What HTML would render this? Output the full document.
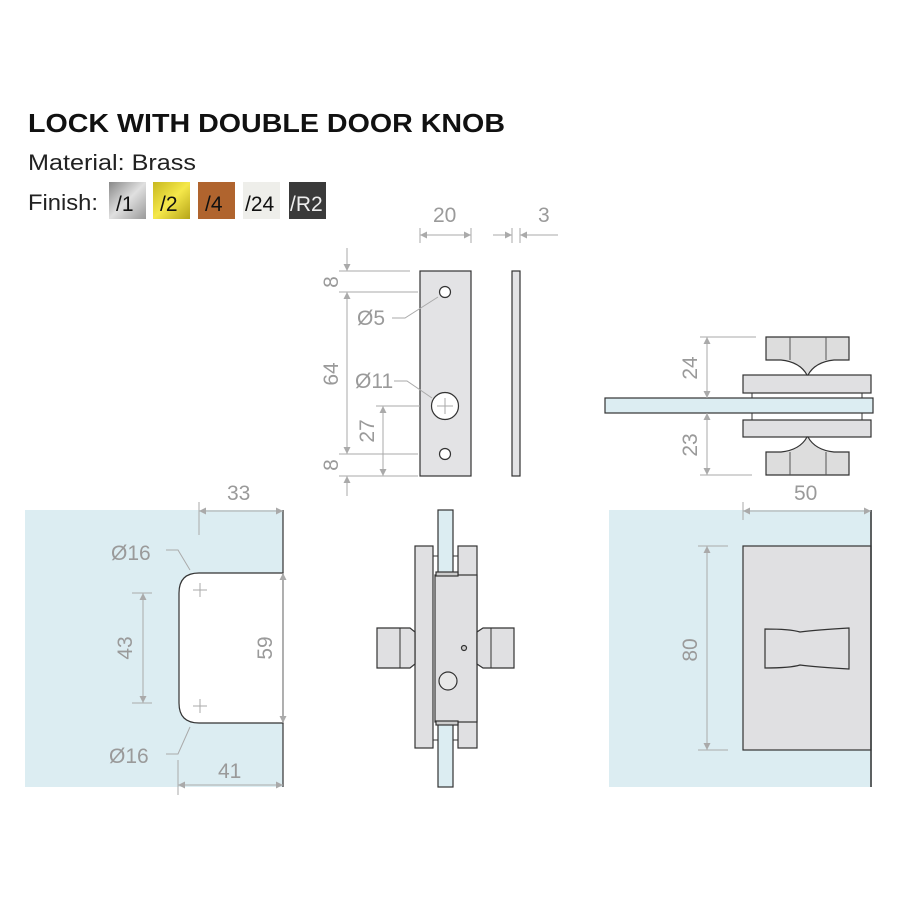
<!DOCTYPE html>
<html><head><meta charset="utf-8"><style>
body{margin:0;background:#fff}
svg{display:block}
text{font-family:"Liberation Sans",sans-serif}
.d{fill:#9a9a9a;font-size:21px}
.l{stroke:#aaa;stroke-width:1;fill:none}
.o{stroke:#333;stroke-width:1.2}
</style></head><body>
<svg width="900" height="900" viewBox="0 0 900 900" xmlns="http://www.w3.org/2000/svg">
<defs>
<marker id="a" viewBox="0 0 10 10" refX="10" refY="5" markerWidth="12" markerHeight="7" orient="auto-start-reverse" markerUnits="userSpaceOnUse"><path d="M0,0L10,5L0,10z" fill="#aaa"/></marker>
<linearGradient id="g1" x1="0" y1="0" x2="1" y2="1"><stop offset="0" stop-color="#888"/><stop offset=".5" stop-color="#e0e0e0"/><stop offset="1" stop-color="#999"/></linearGradient>
<linearGradient id="g2" x1="0" y1="0" x2="1" y2="1"><stop offset="0" stop-color="#c8b820"/><stop offset=".5" stop-color="#f5e84a"/><stop offset="1" stop-color="#b5a418"/></linearGradient>
</defs>
<text x="28" y="132" font-size="26" font-weight="bold" fill="#111" textLength="477" lengthAdjust="spacingAndGlyphs">LOCK WITH DOUBLE DOOR KNOB</text>
<text x="28" y="170" font-size="22" fill="#222" textLength="168" lengthAdjust="spacingAndGlyphs">Material: Brass</text>
<text x="28" y="210" font-size="22" fill="#222" textLength="70" lengthAdjust="spacingAndGlyphs">Finish:</text>
<rect x="109" y="182" width="37" height="37" fill="url(#g1)"/><text x="116" y="211" font-size="21" fill="#111">/1</text>
<rect x="153" y="182" width="37" height="37" fill="url(#g2)"/><text x="160" y="211" font-size="21" fill="#111">/2</text>
<rect x="198" y="182" width="37" height="37" fill="#b0642e"/><text x="205" y="211" font-size="21" fill="#111">/4</text>
<rect x="243" y="182" width="37" height="37" fill="#eeeeea"/><text x="245" y="211" font-size="21" fill="#111">/24</text>
<rect x="289" y="182" width="37" height="37" fill="#3a3a3a"/><text x="290" y="211" font-size="21" fill="#eee">/R2</text>

<rect x="420" y="271" width="51" height="205" fill="#e3e3e5" class="o"/>
<circle cx="445" cy="292" r="5.5" fill="#fff" class="o"/>
<circle cx="445" cy="406" r="13.5" fill="#fff" class="o"/>
<path d="M437 406h16M445 398v16" stroke="#aaa"/>
<circle cx="445" cy="454" r="5.5" fill="#fff" class="o"/>
<rect x="512" y="271" width="8" height="205" fill="#e3e3e5" class="o"/>
<g class="l">
<path d="M420 228v15M471 228v15M512 228v15M520 228v15"/>
<path d="M420 235H471" marker-start="url(#a)" marker-end="url(#a)"/>
<path d="M493 235H512" marker-end="url(#a)"/><path d="M558 235H520" marker-end="url(#a)"/>
<path d="M339 271H410M339 292H418M339 454H418M339 476H418M376 406H420"/>
<path d="M347 248V271" marker-end="url(#a)"/>
<path d="M347 292V454" marker-start="url(#a)" marker-end="url(#a)"/>
<path d="M347 496V476" marker-end="url(#a)"/>
<path d="M383 406V476" marker-start="url(#a)" marker-end="url(#a)"/>
<path d="M392 318H405L438 297"/><path d="M394 381H407L432 398"/>
</g>
<text class="d" x="433" y="222">20</text><text class="d" x="538" y="222">3</text>
<text class="d" x="357" y="325">Ø5</text><text class="d" x="355" y="388">Ø11</text>
<text class="d" transform="translate(338,282) rotate(-90)" text-anchor="middle">8</text>
<text class="d" transform="translate(338,374) rotate(-90)" text-anchor="middle">64</text>
<text class="d" transform="translate(338,465) rotate(-90)" text-anchor="middle">8</text>
<text class="d" transform="translate(374,431) rotate(-90)" text-anchor="middle">27</text>

<rect x="605" y="398" width="268" height="15" fill="#dcedf2" class="o"/>
<rect x="743" y="375" width="128" height="18" fill="#e0e0e2" class="o"/>
<rect x="743" y="420" width="128" height="17" fill="#e0e0e2" class="o"/>
<path d="M752 393v5M862 393v5M752 413v7M862 413v7" stroke="#333"/>
<path d="M766 337H849V360H834Q815 362 808 375 H807Q800 362 781 360H766Z" fill="#ddd" class="o"/>
<path d="M790 337v23M826 337v23" stroke="#555"/>
<path d="M766 475H849V452H834Q815 450 808 437H807Q800 450 781 452H766Z" fill="#ddd" class="o"/>
<path d="M790 475v-23M826 475v-23" stroke="#555"/>
<g class="l">
<path d="M700 337H756M700 475H752"/>
<path d="M707 337V398" marker-start="url(#a)" marker-end="url(#a)"/>
<path d="M707 413V475" marker-start="url(#a)" marker-end="url(#a)"/>
</g>
<text class="d" transform="translate(697,368) rotate(-90)" text-anchor="middle">24</text>
<text class="d" transform="translate(697,445) rotate(-90)" text-anchor="middle">23</text>

<rect x="25" y="510" width="258" height="277" fill="#dcedf2"/>
<path d="M283 573H199Q179 573 179 593V703Q179 723 199 723H283Z" fill="#fff" stroke="#333" stroke-width="1.2"/>
<path d="M283 510V787" stroke="#333" stroke-width="1.2"/>
<path d="M193 590h14M200 583v14M193 706h14M200 699v14" stroke="#aaa"/>
<g class="l">
<path d="M199 502V535"/>
<path d="M199 511H283" marker-start="url(#a)" marker-end="url(#a)"/>
<path d="M132 593H152M132 703H152"/>
<path d="M143 593V703" marker-start="url(#a)" marker-end="url(#a)"/>
<path d="M283 573V723" marker-start="url(#a)" marker-end="url(#a)"/>
<path d="M178 760V795"/>
<path d="M178 785H283" marker-start="url(#a)" marker-end="url(#a)"/>
<path d="M166 550H178L190 570"/><path d="M166 754H178L190 727"/>
</g>
<text class="d" x="227" y="500">33</text>
<text class="d" x="111" y="560">Ø16</text><text class="d" x="109" y="763">Ø16</text>
<text class="d" x="218" y="778">41</text>
<text class="d" transform="translate(132,648) rotate(-90)" text-anchor="middle">43</text>
<text class="d" transform="translate(272,648) rotate(-90)" text-anchor="middle">59</text>

<rect x="438" y="510" width="15" height="277" fill="#dcedf2" class="o"/>
<rect x="415" y="546" width="18" height="202" fill="#e0e0e2" class="o"/>
<rect x="458" y="546" width="19" height="202" fill="#e0e0e2" class="o"/>
<rect x="435" y="575" width="42" height="147" fill="#e0e0e2" class="o"/>
<rect x="436" y="572" width="22" height="4" fill="#ccc" class="o"/>
<rect x="436" y="721" width="22" height="4" fill="#ccc" class="o"/>
<path d="M433 556h5M453 556h5M433 740h5M453 740h5" stroke="#333"/>
<path d="M377 628H410L415 632V664L410 668H377Z" fill="#e0e0e2" class="o"/><path d="M400 628v40" stroke="#333"/>
<path d="M514 628H483L477 632V664L483 668H514Z" fill="#e0e0e2" class="o"/><path d="M491 628v40" stroke="#333"/>
<circle cx="464" cy="648" r="2.5" fill="#ccc" class="o"/>
<circle cx="448" cy="681" r="9" fill="#e8e8e8" class="o"/>

<rect x="609" y="510" width="263" height="277" fill="#dcedf2"/>
<rect x="743" y="546" width="128" height="204" fill="#e0e0e2" class="o"/>
<path d="M871 510V787" stroke="#333" stroke-width="1.5"/>
<path d="M765 629Q790 629 800 632Q815 630 849 628V669Q815 667 800 665Q790 668 765 668Z" fill="none" class="o"/>
<g class="l">
<path d="M743 502V520"/>
<path d="M743 511H871" marker-start="url(#a)" marker-end="url(#a)"/>
<path d="M698 546H728M698 750H728"/>
<path d="M707 546V750" marker-start="url(#a)" marker-end="url(#a)"/>
</g>
<text class="d" x="794" y="500">50</text>
<text class="d" transform="translate(697,650) rotate(-90)" text-anchor="middle">80</text>
</svg>
</body></html>
